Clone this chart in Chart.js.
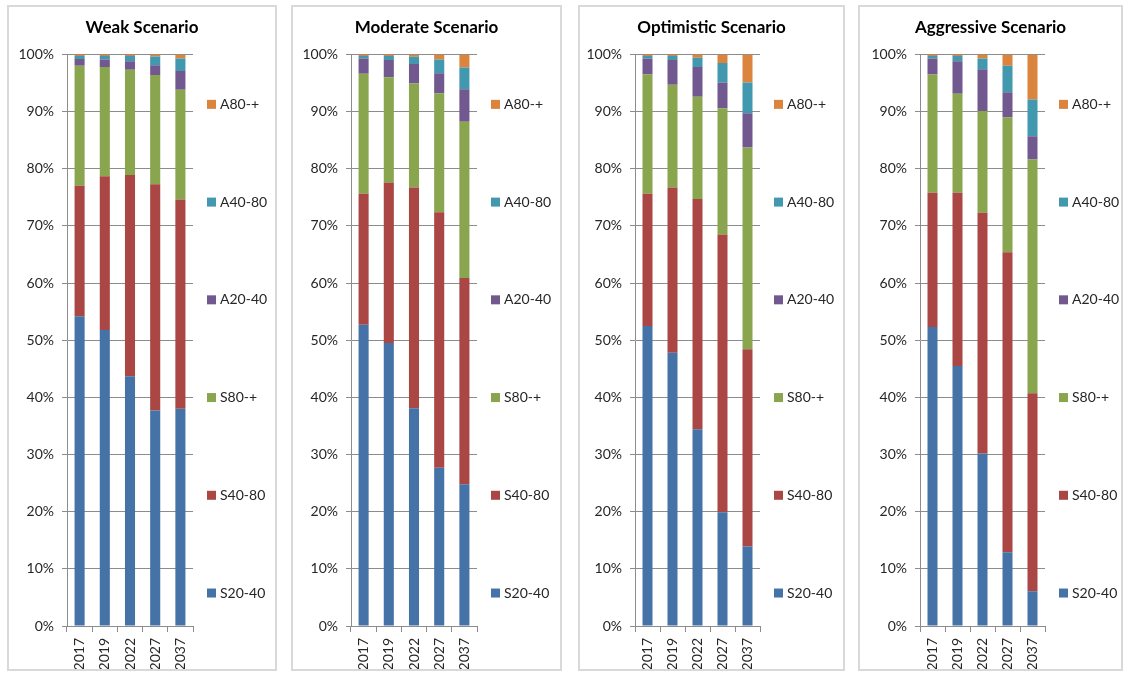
<!DOCTYPE html>
<html>
<head>
<meta charset="utf-8">
<script src="https://cdn.jsdelivr.net/npm/chart.js@4.4.0/dist/chart.umd.min.js"></script>
<style>
body { margin: 0; background: #fff; width: 1124px; height: 677px; position: relative; overflow: hidden; }
.panel { position: absolute; top: 5px; height: 662px; border: 2px solid #d9d9d9; background: #fff; }
.panel canvas { display: block; }
</style>
</head>
<body>
<div class="panel" style="left:7px;width:266px"><canvas id="c0" width="266" height="662"></canvas></div>
<div class="panel" style="left:291px;width:267px"><canvas id="c1" width="267" height="662"></canvas></div>
<div class="panel" style="left:578px;width:263px"><canvas id="c2" width="263" height="662"></canvas></div>
<div class="panel" style="left:858px;width:261px"><canvas id="c3" width="261" height="662"></canvas></div>
<script>
const YEARS = ['2017', '2019', '2022', '2027', '2037'];
const SERIES = ['S20-40', 'S40-80', 'S80-+', 'A20-40', 'A40-80', 'A80-+'];
const COLORS = ['#4572A7', '#AA4643', '#89A54E', '#71588F', '#4198AF', '#DB843D'];
const TITLES = ['Weak Scenario', 'Moderate Scenario', 'Optimistic Scenario', 'Aggressive Scenario'];

// one row per series (S20-40 ... A80-+), one value per year, in %
const WEAK = [
    [54.2, 51.8, 43.7, 37.7, 38.0],
    [22.8, 26.9, 35.2, 39.6, 36.6],
    [21.0, 19.1, 18.4, 19.1, 19.2],
    [1.2, 1.3, 1.5, 1.7, 3.3],
    [0.5, 0.6, 0.9, 1.55, 2.2],
    [0.3, 0.3, 0.3, 0.35, 0.7]
];
const MODERATE = [
    [52.7, 49.5, 38.1, 27.7, 24.8],
    [22.9, 28.1, 38.6, 44.7, 36.1],
    [21.0, 18.4, 18.2, 20.8, 27.3],
    [2.7, 3.0, 3.4, 3.5, 5.7],
    [0.4, 0.7, 1.3, 2.4, 3.8],
    [0.3, 0.3, 0.4, 0.9, 2.3]
];
const OPTIMISTIC = [
    [52.5, 47.8, 34.4, 19.9, 13.9],
    [23.1, 28.9, 40.3, 48.6, 34.5],
    [20.9, 18.0, 17.9, 22.1, 35.3],
    [2.8, 4.3, 5.2, 4.5, 6.0],
    [0.4, 0.7, 1.6, 3.4, 5.4],
    [0.3, 0.3, 0.6, 1.5, 4.9]
];
const AGGRESSIVE = [
    [52.3, 45.5, 30.2, 12.9, 6.1],
    [23.5, 30.3, 42.1, 52.5, 34.6],
    [20.7, 17.3, 17.8, 23.6, 40.9],
    [2.8, 5.7, 7.3, 4.4, 4.1],
    [0.4, 0.9, 1.9, 4.6, 6.4],
    [0.3, 0.3, 0.7, 2.0, 7.9]
];
const SCENARIOS = [WEAK, MODERATE, OPTIMISTIC, AGGRESSIVE];

// per panel: y axis width, room on the right for the legend
const AXIS_W = [58, 58, 55, 60];
const PAD_R = [82, 83, 83, 76];

const GRID = '#8c8c8c';
const TEXT = '#262626';

Chart.defaults.font.family = 'Lato';
Chart.defaults.color = TEXT;

// legend spread down the right side like the excel one
const sideLegend = {
    id: 'sideLegend',
    afterDraw(chart) {
        const { ctx, chartArea } = chart;
        const h = chartArea.bottom - chartArea.top;
        const x = chartArea.right + 14;
        const items = chart.data.datasets.slice().reverse();
        ctx.save();
        ctx.font = '14px Lato';
        ctx.textBaseline = 'middle';
        items.forEach((ds, i) => {
            const y = chartArea.top + h * (50 + i * 97.8) / 572;
            ctx.fillStyle = ds.backgroundColor;
            ctx.fillRect(x, y - 4.5, 9, 9);
            ctx.fillStyle = TEXT;
            ctx.fillText(ds.label, x + 13, y);
        });
        ctx.restore();
    }
};

function makeChart(i) {
    const rows = SCENARIOS[i];
    new Chart(document.getElementById('c' + i), {
        type: 'bar',
        data: {
            labels: YEARS,
            datasets: SERIES.map((name, k) => ({
                label: name,
                data: rows[k],
                backgroundColor: COLORS[k],
                borderWidth: 0,
                barPercentage: 0.4,
                categoryPercentage: 1
            }))
        },
        options: {
            responsive: false,
            animation: false,
            layout: { padding: 0 },
            plugins: {
                legend: { display: false },
                tooltip: { enabled: false },
                title: {
                    display: true,
                    text: TITLES[i],
                    color: '#000',
                    font: { size: 17, weight: 'bold' },
                    padding: { top: 10, bottom: 17 }
                }
            },
            scales: {
                x: {
                    stacked: true,
                    grid: { drawOnChartArea: false, offset: true, tickLength: 6, color: GRID },
                    border: { color: GRID },
                    ticks: { minRotation: 90, maxRotation: 90, padding: 6, font: { size: 14 }, color: TEXT },
                    afterFit(scale) { scale.height = 43; }
                },
                y: {
                    stacked: true,
                    min: 0,
                    max: 100,
                    grid: { color: GRID, tickLength: 5 },
                    border: { color: GRID },
                    ticks: {
                        stepSize: 10,
                        padding: 8,
                        font: { size: 14 },
                        color: TEXT,
                        callback: v => v + '%'
                    },
                    afterFit(scale) { scale.width = AXIS_W[i]; }
                },
                // empty box on the right, keeps space for the legend
                side: {
                    position: 'right',
                    min: 0,
                    max: 100,
                    grid: { display: false },
                    border: { display: false },
                    ticks: { display: false },
                    afterFit(scale) { scale.width = PAD_R[i]; }
                }
            }
        },
        plugins: [sideLegend]
    });
}

for (let i = 0; i < 4; i++) makeChart(i);
</script>
</body>
</html>
